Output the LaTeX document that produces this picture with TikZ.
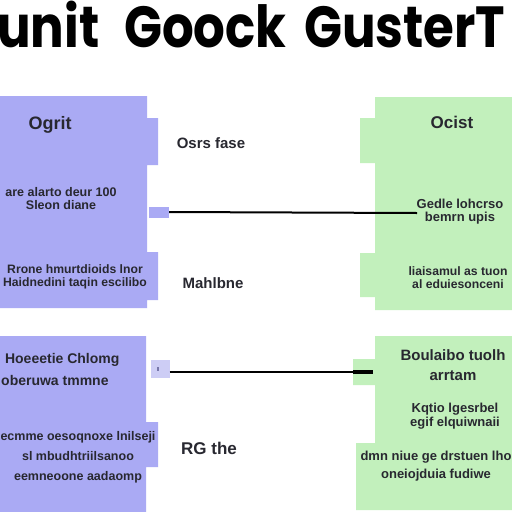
\documentclass[tikz,border=0pt]{standalone}
\usepackage{graphicx}
\usepackage{fontspec}
\setmainfont{Liberation Sans}
\newfontfamily\titlefont{Poppins}
\definecolor{lav}{RGB}{170,170,244}
\definecolor{lavlite}{RGB}{205,205,245}
\definecolor{mint}{RGB}{194,240,188}
\definecolor{ink}{RGB}{40,40,48}
\newcommand{\tw}[1]{\scalebox{0.86}[1]{#1}}
\tikzset{
  tword/.style={anchor=base west,inner sep=0pt,font=\titlefont\bfseries\fontsize{58}{58}\selectfont,text=black},
  body/.style={inner sep=0pt,align=center,font=\bfseries\fontsize{13}{13}\selectfont,text=ink},
  head/.style={inner sep=0pt,align=center,font=\bfseries\fontsize{18}{18}\selectfont,text=ink},
  mid/.style={inner sep=0pt,align=center,font=\bfseries\fontsize{15}{15}\selectfont,text=ink},
  link/.style={line width=2pt,black},
}
\begin{document}
\begin{tikzpicture}[x=1pt,y=-1pt]
\useasboundingbox (0,0) rectangle (512,512);
\fill[white] (0,0) rectangle (512,512);
% title
\node[tword] (t1) at (-3,47) {\tw{unit}};
\node[tword] (t2) at (124,47) {\tw{Goock}};
\node[tword] (t3) at (304,47) {\tw{GusterT}};
% left purple blocks
\fill[lav] (0,96) -- (147,96) -- (147,118) -- (158,118) -- (158,165) -- (147,165) -- (147,252) -- (158,252) -- (158,300) -- (147,300) -- (147,308) -- (0,308) -- cycle;
\fill[lav] (0,336) -- (146,336) -- (146,422) -- (158,422) -- (158,467) -- (146,467) -- (146,512) -- (0,512) -- cycle;
% right green blocks
\fill[mint] (375,97) -- (512,97) -- (512,310) -- (375,310) -- (375,297) -- (360,297) -- (360,253) -- (375,253) -- (375,163) -- (360,163) -- (360,118) -- (375,118) -- cycle;
\fill[mint] (375,336) -- (512,336) -- (512,510) -- (356,510) -- (356,443) -- (375,443) -- (375,385) -- (353,385) -- (353,359) -- (375,359) -- cycle;
% icons
\node[fill=lav,minimum width=20pt,minimum height=11pt,inner sep=0pt] (i1) at (159,212) {};
\node[fill=lavlite,minimum width=19pt,minimum height=18pt,inner sep=0pt] (i2) at (160,369) {};
\fill[lav!70!black] (157,367) rectangle (159,371);
\coordinate (e1) at (417,213);
\coordinate (e2) at (373,372);
\draw[link] (i1.east) -- (e1);
\draw[link] (i2.east |- e2) -- (e2);
\draw[line width=3.5pt] (353,372) -- (e2);
% top-left texts
\node[head] (a1) at (50,125) {Ogrit};
\node[body,font=\bfseries\fontsize{12.5}{13}\selectfont] (a2) at (61,199) {are alarto deur 100\\Sleon diane};
\node[body,font=\bfseries\fontsize{12.2}{13}\selectfont] (a3) at (75,277) {Rrone hmurtdioids lnor\\Haidnedini taqin escilibo};
\node[mid] (m1) at (211,143) {Osrs fase};
\node[mid] (m2) at (213,283) {Mahlbne};
% top-right texts
\node[head,font=\bfseries\fontsize{17}{17}\selectfont] (b1) at (452,122) {Ocist};
\node[body] (b2) at (460,212) {Gedle lohcrso\\bemrn upis};
\node[body,font=\bfseries\fontsize{12.2}{13}\selectfont] (b3) at (458,278) {liaisamul as tuon\\al eduiesonceni};
% bottom-left texts
\node[body,font=\bfseries\fontsize{14}{22}\selectfont,align=left,anchor=west] (c1) at (1,369) {\;Hoeeetie Chlomg\\oberuwa tmmne};
\node[body,font=\bfseries\fontsize{12.5}{20}\selectfont] (c2) at (78,457) {ecmme oesoqnoxe lnilseji\\sl mbudhtriilsanoo\\eemneoone aadaomp};
\node[mid,font=\bfseries\fontsize{17}{17}\selectfont] (m3) at (209,448) {RG the};
% bottom-right texts
\node[body,font=\bfseries\fontsize{15}{20}\selectfont] (d1) at (453,365) {Boulaibo tuolh\\arrtam};
\node[body,font=\bfseries\fontsize{13}{14}\selectfont] (d2) at (455,416) {Kqtio lgesrbel\\egif elquiwnaii};
\node[body,font=\bfseries\fontsize{13}{18}\selectfont] (d3) at (436,466) {dmn niue ge drstuen lho\\oneiojduia fudiwe};
\end{tikzpicture}
\end{document}
